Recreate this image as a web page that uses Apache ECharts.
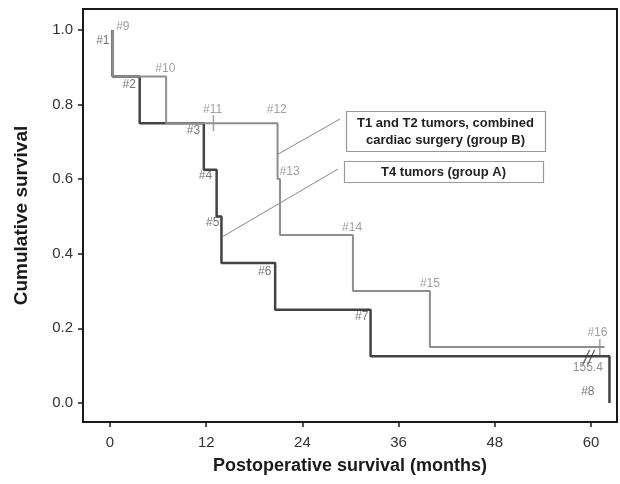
<!DOCTYPE html>
<html>
<head>
<meta charset="utf-8">
<script src="https://cdn.jsdelivr.net/npm/echarts@6/dist/echarts.min.js"></script>
<style>
html, body { margin: 0; padding: 0; background: #fff; }
#main { width: 620px; height: 484px; }
</style>
</head>
<body>
<div id="main"></div>
<script>
var myChart = echarts.init(document.getElementById('main'));

// Kaplan-Meier steps, months / cumulative survival
var timesA = [0.3, 0.3, 3.7, 11.7, 13.3, 13.9, 20.6, 32.5, 62.3];
var survA  = [1.0, 0.875, 0.75, 0.625, 0.5, 0.375, 0.25, 0.125, 0.0];
var timesB = [0.3, 0.3, 7.0, 20.9, 21.2, 30.3, 39.9, 61.7];
var survB  = [1.0, 0.875, 0.75, 0.6, 0.45, 0.3, 0.15, 0.15];

// censored cases of group B
var censorTimesB = [12.9, 61.1];
var censorSurvB  = [0.75, 0.15];

// case numbers, placed in chart units
var caseNamesA = ['#1', '#2', '#3', '#4', '#5', '#6', '#7', '#8'];
var caseTimesA = [-0.9, 2.4, 10.4, 11.9, 12.8, 19.3, 31.4, 59.6];
var caseSurvA  = [0.971, 0.853, 0.729, 0.609, 0.483, 0.352, 0.231, 0.029];
var caseNamesB = ['#9', '#10', '#11', '#12', '#13', '#14', '#15', '#16'];
var caseTimesB = [1.6, 6.9, 12.8, 20.8, 22.4, 30.2, 39.9, 60.8];
var caseSurvB  = [1.009, 0.895, 0.787, 0.787, 0.62, 0.471, 0.319, 0.188];

// axis break at the end of follow-up
var breakTime = 59.7;
var breakSurv = 0.122;
var breakLabel = '155.4';
var breakLabelSurv = 0.094;

var xTicks = [0, 12, 24, 36, 48, 60];
var yTicks = [0, 0.2, 0.4, 0.6, 0.8, 1.0];

var groupNames = ['T1 and T2 tumors, combined\ncardiac surgery (group B)', 'T4 tumors (group A)'];
// where each leader line meets its curve (months, survival)
var leaderTimes = [20.8, 14.06];
var leaderSurv  = [0.665, 0.446];

function zip(a, b) {
    return a.map(function (v, i) { return [v, b[i]]; });
}
function labelData(names, t, s) {
    return names.map(function (n, i) { return { name: n, value: [t[i], s[i]] }; });
}

var font = '"Liberation Sans", Arial, sans-serif';
var axisColor = '#1a1a1a';
var colorA = '#434343';
var colorB = '#8e8e8e';

var option = {
    animation: false,
    backgroundColor: '#fff',
    textStyle: { fontFamily: font },
    grid: {
        left: 83, right: 3, top: 9, bottom: 62,
        show: true,
        borderColor: axisColor,
        borderWidth: 2
    },
    xAxis: {
        type: 'value',
        min: -3.37,
        max: 63.24,
        name: 'Postoperative survival (months)',
        nameLocation: 'middle',
        nameGap: 35,
        nameTextStyle: { fontSize: 18, fontWeight: 'bold', color: axisColor, fontFamily: font },
        axisLine: { show: true, onZero: false, lineStyle: { color: axisColor, width: 2 } },
        axisTick: { show: true, length: 5, customValues: xTicks, lineStyle: { color: axisColor, width: 1.5 } },
        axisLabel: { customValues: xTicks, fontSize: 15, color: '#333', margin: 13, fontFamily: font },
        splitLine: { show: false }
    },
    yAxis: {
        type: 'value',
        min: -0.051,
        max: 1.056,
        name: 'Cumulative survival',
        nameLocation: 'middle',
        nameGap: 52,
        nameTextStyle: { fontSize: 19, fontWeight: 'bold', color: axisColor, fontFamily: font },
        axisLine: { show: true, onZero: false, lineStyle: { color: axisColor, width: 2 } },
        axisTick: { show: true, length: 5, customValues: yTicks, lineStyle: { color: axisColor, width: 1.5 } },
        axisLabel: {
            customValues: yTicks, fontSize: 15, color: '#333', margin: 10, fontFamily: font,
            formatter: function (v) { return v.toFixed(1); }
        },
        splitLine: { show: false }
    },
    series: [
        {
            type: 'line', step: 'end', symbol: 'none', silent: true, z: 2,
            data: zip(timesA, survA),
            lineStyle: { color: colorA, width: 2.5 }
        },
        {
            type: 'line', step: 'end', symbol: 'none', silent: true, z: 3,
            data: zip(timesB, survB),
            lineStyle: { color: colorB, width: 2 }
        },
        {
            type: 'scatter', silent: true, z: 3,
            symbol: 'rect', symbolSize: [1.6, 16],
            itemStyle: { color: colorB },
            data: zip(censorTimesB, censorSurvB)
        },
        {
            type: 'scatter', silent: true, z: 4,
            symbol: 'path://M0,16L7,0M5,16L12,0', symbolSize: [12, 15],
            itemStyle: { color: 'none', borderColor: '#333', borderWidth: 1.3 },
            data: [[breakTime, breakSurv]]
        },
        {
            type: 'scatter', silent: true, symbolSize: 0, z: 5,
            label: { show: true, position: 'inside', formatter: '{b}', fontSize: 12, color: '#555', fontFamily: font },
            data: labelData(caseNamesA, caseTimesA, caseSurvA)
        },
        {
            type: 'scatter', silent: true, symbolSize: 0, z: 5,
            label: { show: true, position: 'inside', formatter: '{b}', fontSize: 12, color: '#888', fontFamily: font },
            data: labelData(caseNamesB, caseTimesB, caseSurvB)
        },
        {
            type: 'scatter', silent: true, symbolSize: 0, z: 5,
            label: { show: true, position: 'inside', formatter: '{b}', fontSize: 12, color: '#777', fontFamily: font },
            data: [{ name: breakLabel, value: [breakTime - 0.1, breakLabelSurv] }]
        }
    ]
};

myChart.setOption(option);

// group boxes with leader lines to the curves
var boxes = [
    { x: 346, y: 111, w: 199, h: 40, lineFrom: [340, 119] },
    { x: 344, y: 161, w: 199, h: 21, lineFrom: [338, 169] }
];
var elements = [];
boxes.forEach(function (b, i) {
    var to = myChart.convertToPixel({ gridIndex: 0 }, [leaderTimes[i], leaderSurv[i]]);
    elements.push({
        type: 'line', silent: true, z: 10,
        shape: { x1: b.lineFrom[0], y1: b.lineFrom[1], x2: to[0], y2: to[1] },
        style: { stroke: '#888', lineWidth: 1 }
    });
    elements.push({
        type: 'rect', silent: true, z: 10,
        shape: { x: b.x + 0.5, y: b.y + 0.5, width: b.w, height: b.h },
        style: { fill: '#fff', stroke: '#999', lineWidth: 1.2 }
    });
    elements.push({
        type: 'text', silent: true, z: 11,
        x: b.x + b.w / 2, y: b.y + b.h / 2 + 1,
        style: {
            text: groupNames[i], fill: '#222', font: 'bold 13px ' + font,
            align: 'center', verticalAlign: 'middle', lineHeight: 16.5
        }
    });
});
myChart.setOption({ graphic: { elements: elements } });
</script>
</body>
</html>
